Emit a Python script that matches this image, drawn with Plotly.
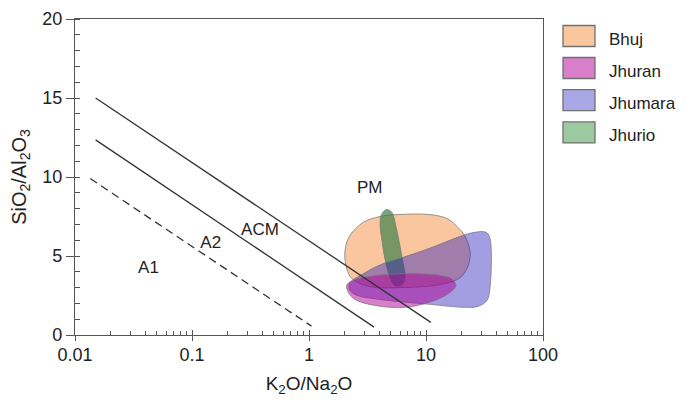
import plotly.graph_objects as go

# ---------------- data ----------------
series_names = ["Bhuj", "Jhuran", "Jhumara", "Jhurio"]

bhuj_x = [2.03, 2.15, 2.47, 3.01, 4.05, 5.65, 10.8, 15.1, 18.4, 21.5, 23.8, 22.9, 19.5, 13.2, 6.0, 3.32, 2.33, 2.07]
bhuj_y = [5.31, 6.06, 6.69, 7.19, 7.5, 7.62, 7.62, 7.37, 6.87, 6.25, 5.31, 4.37, 3.62, 3.19, 3.0, 3.06, 3.56, 4.37]

jhumara_x = [2.24, 3.01, 4.05, 7.74, 11.9, 17.7, 23.8, 32.6, 35.2, 35.2, 33.2, 27.8, 21.5, 10.8, 4.05, 2.47, 2.2]
jhumara_y = [3.31, 3.94, 4.44, 5.12, 5.62, 6.12, 6.44, 6.5, 6.12, 2.94, 2.19, 1.81, 1.75, 1.94, 2.25, 2.56, 2.94]

jhuran_x = [2.11, 2.47, 3.19, 5.65, 8.89, 13.7, 17.0, 18.0, 16.0, 11.9, 6.6, 3.67, 2.47, 2.15]
jhuran_y = [3.19, 3.5, 3.69, 3.87, 3.87, 3.75, 3.5, 3.12, 2.69, 2.19, 1.75, 1.87, 2.25, 2.75]

jhurio_x = [4.64, 5.12, 5.54, 6.0, 6.36, 6.62, 6.24, 5.43, 4.92, 4.46, 4.21, 4.05, 4.21]
jhurio_y = [7.94, 7.75, 6.87, 5.62, 4.56, 3.75, 3.19, 3.12, 3.69, 4.81, 5.94, 7.06, 7.69]

# discrimination lines
line_dashed_x = [0.0135, 1.05]
line_dashed_y = [9.9, 0.56]
line_mid_x = [0.015, 3.6]
line_mid_y = [12.35, 0.5]
line_top_x = [0.015, 11.0]
line_top_y = [15.0, 0.8]

# field labels
field_labels = ["A1", "A2", "ACM", "PM"]
field_x = [0.0425, 0.1445, 0.381, 3.3]
field_y = [4.17, 5.79, 6.62, 9.23]

x_tickvals = [0.01, 0.1, 1, 10, 100]
x_ticktext = ["0.01", "0.1", "1", "10", "100"]
y_tickvals = [0, 5, 10, 15, 20]
y_ticktext = ["0", "5", "10", "15", "20"]

# ---------------- styles ----------------
FONT = "Arial, Liberation Sans, sans-serif"
TXT = "#222222"
AX = "#555555"
fills = {
    "Bhuj": "rgba(247,160,95,0.6)",
    "Jhuran": "rgba(175,0,150,0.5)",
    "Jhumara": "rgba(35,25,185,0.42)",
    "Jhurio": "rgba(61,129,75,0.7)",
}
swatch = {
    "Bhuj": "#f9c69e",
    "Jhuran": "#d97fca",
    "Jhumara": "#a9a7e6",
    "Jhurio": "#9dc9a1",
}

fig = go.Figure()

def poly(name, xs, ys):
    fig.add_trace(go.Scatter(
        x=xs + xs[:1], y=ys + ys[:1], mode="lines", fill="toself",
        fillcolor=fills[name], name=name,
        line=dict(color="rgba(120,120,120,0.75)", width=1, shape="spline", smoothing=1.0),
        showlegend=False, hoverinfo="name"))

poly("Bhuj", bhuj_x, bhuj_y)
poly("Jhurio", jhurio_x, jhurio_y)
poly("Jhumara", jhumara_x, jhumara_y)
poly("Jhuran", jhuran_x, jhuran_y)

for xs, ys, dash in [(line_dashed_x, line_dashed_y, "8px,5px"),
                     (line_mid_x, line_mid_y, "solid"),
                     (line_top_x, line_top_y, "solid")]:
    fig.add_trace(go.Scatter(x=xs, y=ys, mode="lines",
                             line=dict(color="#333333", width=1.3, dash=dash),
                             showlegend=False, hoverinfo="skip"))

fig.add_trace(go.Scatter(x=field_x, y=field_y, mode="text", text=field_labels,
                         textfont=dict(family=FONT, size=17, color=TXT),
                         showlegend=False, hoverinfo="skip"))

# dummy traces so overlay tick axes are drawn
fig.add_trace(go.Scatter(x=[], y=[], xaxis="x2", yaxis="y2", showlegend=False, hoverinfo="skip"))
fig.add_trace(go.Scatter(x=[], y=[], xaxis="x3", yaxis="y2", showlegend=False, hoverinfo="skip"))

minor_x = [m * 10.0 ** e for e in range(-2, 2) for m in range(2, 10)]

# page body has an 8px margin: figure is 8px smaller so it fits the 692x403 window
common = dict(showgrid=False, zeroline=False, automargin=False)
fig.update_layout(
    width=684, height=395, autosize=False,
    margin=dict(l=67, r=149, t=11, b=68),
    paper_bgcolor="white", plot_bgcolor="white",
    font=dict(family=FONT, color=TXT),
    showlegend=False,
    xaxis=dict(type="log", range=[-2, 2], tickvals=x_tickvals, ticktext=x_ticktext,
               ticks="outside", ticklen=5, tickcolor=AX, tickwidth=1.2,
               ticklabelstandoff=-2, ticklabeloverflow="allow",
               showline=True, linecolor=AX, linewidth=1.3, mirror=True,
               tickfont=dict(size=18, family=FONT, color=TXT),
               title=dict(text="K<sub>2</sub>O/Na<sub>2</sub>O", font=dict(size=19, family=FONT, color=TXT), standoff=12),
               **common),
    xaxis2=dict(type="log", range=[-2, 2], overlaying="x", anchor="y2", side="bottom",
                tickvals=minor_x, ticks="inside", ticklen=4, tickcolor=AX, tickwidth=1,
                showticklabels=False, showline=False, **common),
    xaxis3=dict(type="log", range=[-2, 2], overlaying="x", anchor="y2", side="bottom",
                tickvals=x_tickvals, ticks="inside", ticklen=5, tickcolor=AX, tickwidth=1.2,
                showticklabels=False, showline=False, **common),
    yaxis=dict(range=[0, 20], tickvals=y_tickvals, ticktext=y_ticktext,
               ticks="outside", ticklen=8, tickcolor=AX, tickwidth=1.2,
               ticklabeloverflow="allow",
               minor=dict(dtick=1, ticks="inside", ticklen=5, tickcolor=AX, tickwidth=1),
               showline=True, linecolor=AX, linewidth=1.3, mirror=True,
               tickfont=dict(size=18, family=FONT, color=TXT),
               title=dict(text="SiO<sub>2</sub>/Al<sub>2</sub>O<sub>3</sub>", font=dict(size=20, family=FONT, color=TXT), standoff=14),
               **common),
    yaxis2=dict(range=[0, 20], overlaying="y", anchor="x", side="left",
                tickvals=y_tickvals, ticks="inside", ticklen=5, tickcolor=AX, tickwidth=1.2,
                showticklabels=False, showline=False, **common),
)

# custom legend (large swatches like the reference); positions in screen px
PL, PW, PB, PH = 75, 468, 335, 316
def px_x(p):
    return (p - PL) / PW
def px_y(p):
    return (PB - p) / PH

centers = [36, 68, 100.2, 132.4]
for name, cy in zip(series_names, centers):
    fig.add_shape(type="rect", xref="paper", yref="paper",
                  x0=px_x(563), x1=px_x(595), y0=px_y(cy + 10.5), y1=px_y(cy - 10.5),
                  fillcolor=swatch[name], line=dict(color="#707070", width=1.3))
    fig.add_annotation(xref="paper", yref="paper", x=px_x(607), y=px_y(cy + 3),
                       text=name, showarrow=False, xanchor="left", yanchor="middle",
                       font=dict(family=FONT, size=17, color=TXT))

fig.write_html("out.html")
